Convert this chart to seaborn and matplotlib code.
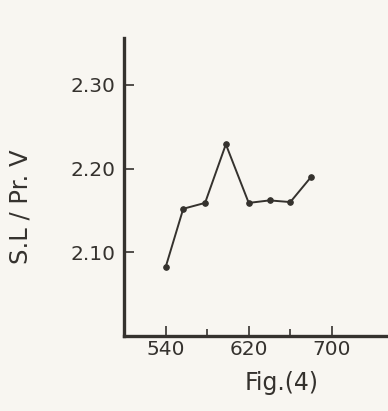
import matplotlib
matplotlib.use("Agg")
import matplotlib.pyplot as plt
import seaborn as sns
import pandas as pd

wavelength = [540, 557, 578, 598, 620, 640, 660, 680]
ratio = [2.082, 2.152, 2.159, 2.229, 2.159, 2.162, 2.160, 2.190]
x_ticks = [540, 620, 700]
x_minor = [580, 660]
y_ticks = [2.10, 2.20, 2.30]
y_tick_labels = ["2.10", "2.20", "2.30"]

sns.set_style("white")
plt.rcParams['font.family'] = ['DejaVu Sans']

bg = "#f8f6f1"
ink = "#35322e"
fig = plt.figure(figsize=(3.88, 4.11), dpi=100, facecolor=bg)
ax = fig.add_axes([0.3196, 0.1825, 0.6804, 0.725])
ax.set_facecolor(bg)

df = pd.DataFrame({"wl": wavelength, "r": ratio})
sns.lineplot(data=df, x="wl", y="r", ax=ax, color=ink, linewidth=1.4,
             marker="o", markersize=4, markeredgecolor=ink)

ax.set_xlim(500, 754)
ax.set_ylim(2.00, 2.356)
ax.set_xticks(x_ticks)
ax.set_xticks(x_minor, minor=True)
ax.set_yticks(y_ticks)
ax.set_yticklabels(y_tick_labels)
ax.tick_params(axis="both", which="major", direction="in", length=7, width=1.2,
               colors=ink, labelsize=14.5)
ax.tick_params(axis="y", pad=6)
ax.tick_params(axis="x", pad=3)
ax.tick_params(axis="x", which="minor", direction="in", length=5, width=1.2, colors=ink)
ax.tick_params(axis="x", which="both", bottom=True)
ax.tick_params(axis="y", which="both", left=True)
for s in ["top", "right"]:
    ax.spines[s].set_visible(False)
for s in ["left", "bottom"]:
    ax.spines[s].set_linewidth(2.4)
    ax.spines[s].set_color(ink)

ax.set_xlabel("")
ax.set_ylabel("")
fig.text(0.052, 0.497, "S.L / Pr. V", rotation=90, ha="center", va="center",
         fontsize=17.5, color=ink)
fig.text(0.725, 0.068, "Fig.(4)", ha="center", va="center", fontsize=17, color=ink)

fig.savefig("out.png", dpi=100, facecolor=bg)
